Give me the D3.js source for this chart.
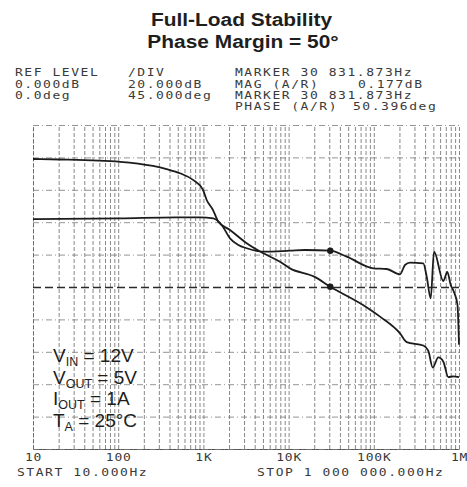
<!DOCTYPE html>
<html>
<head>
<meta charset="utf-8">
<script src="https://cdn.jsdelivr.net/npm/d3@7"></script>
<style>
  html, body { margin: 0; padding: 0; background: #fff; }
  svg { display: block; }
  .mono { font-family: "DejaVu Sans Mono", monospace; font-size: 10px; letter-spacing: 1.2px; fill: #3a3a3a; }
</style>
</head>
<body>
<svg id="chart" width="467" height="487"></svg>
<script>
// Frequency decades along the bottom and their labels
const decades = [10, 100, 1e3, 1e4, 1e5, 1e6];
const decadeLabels = ["10", "100", "1K", "10K", "100K", "1M"];

// Loop gain magnitude (dB) vs frequency (Hz)
const magFreq = [10, 20.7, 105, 256, 371, 531, 755, 989, 1093, 1297, 1496, 2051, 3222, 5049, 7928, 10380, 20000, 30831, 74680, 118300, 203000, 243300, 381000, 436500, 491400, 571700, 654600, 748600, 857000, 1000000];
const magDb   = [79.0, 78.7, 77.3, 74.7, 72.7, 70.2, 66.1, 59.9, 53.7, 47.5, 40.3, 35.2, 27.0, 20.8, 15.6, 11.5, 6.4, 0.177, -11.1, -18.3, -28.6, -34.0, -36.1, -39.5, -49.7, -43.5, -46.1, -55.6, -55.2, -55.6];

// Loop phase (deg) vs frequency (Hz)
const phaseFreq = [10, 105, 486, 912, 1306, 1640, 2051, 2570, 3222, 5049, 10380, 15570, 30831, 48090, 98660, 141600, 203000, 232300, 266000, 381000, 417900, 465600, 509000, 654600, 729000, 799700, 873000, 960000, 1000000];
const phaseDeg  = [94.4, 95.4, 96.8, 96.8, 95.4, 86.1, 67.6, 58.3, 53.8, 49.0, 50.4, 51.4, 50.396, 42.1, 26.0, 25.0, 17.6, 30.6, 33.8, 32.9, 14.3, -15.7, 49.0, 8.3, 20.8, 2.8, -6.9, -25, -80];

// Crossover marker
const markerFreq = 30831.873;
const markerMag = 0.177;
const markerPhase = 50.396;

// Analyzer readout lines
const headerLeft = [["REF LEVEL", "/DIV"], ["0.000dB", "20.000dB"], ["0.0deg", "45.000deg"]];
const headerRight = [["MARKER 30 831.873Hz", ""], ["MAG (A/R)", "0.177dB"], ["MARKER 30 831.873Hz", ""], ["PHASE (A/R)", "50.396deg"]];

const svg = d3.select("#chart");
const plotLeft = 33, plotRight = 459, plotTop = 125, plotBottom = 449;

const x = d3.scaleLog().domain([10, 1e6]).range([plotLeft, plotRight]);
const yMag = d3.scaleLinear().domain([-100, 100]).range([plotBottom, plotTop]);
const yPh = d3.scaleLinear().domain([-225, 225]).range([plotBottom, plotTop]);

// Title (slightly widened bold sans)
const title = svg.append("g")
  .attr("font-family", "'Liberation Sans', Arial, sans-serif")
  .attr("font-weight", "bold").attr("font-size", 19).attr("fill", "#1e1e1e")
  .attr("text-anchor", "middle");
title.append("text").attr("transform", "translate(241.5,26) scale(1.1,1)").text("Full-Load Stability");
title.append("text").attr("transform", "translate(243,47.5) scale(1.1,1)").text("Phase Margin = 50°");

// Monospace readout text, drawn wide like the plotter font
function mono(str, px, py) {
  svg.append("text").attr("class", "mono")
    .attr("transform", `translate(${px},${py}) scale(1.3,1)`)
    .text(str);
}
const rowY = [76, 87.5, 98.5, 110];
headerLeft.forEach((r, i) => { mono(r[0], 15, rowY[i]); mono(r[1], 128, rowY[i]); });
headerRight.forEach((r, i) => {
  mono(r[0], 235, rowY[i]);
  if (r[1]) mono(r[1], r[1].startsWith("0.") ? 358 : 353, rowY[i]);
});

// Vertical grid: every 1..9 multiple within each decade
const minorTicks = [];
decades.slice(0, -1).forEach(d => { for (let k = 1; k < 10; k++) minorTicks.push(d * k); });
minorTicks.push(1e6);

svg.append("g")
  .attr("transform", `translate(0,${plotBottom})`)
  .call(d3.axisBottom(x).tickValues(minorTicks).tickFormat("").tickSize(-(plotBottom - plotTop)).tickSizeOuter(0))
  .call(g => g.select(".domain").attr("stroke", "#555").attr("stroke-width", 1))
  .call(g => g.selectAll(".tick line")
    .attr("stroke", "#444").attr("stroke-width", 0.8)
    .attr("stroke-dasharray", "4,2").attr("opacity", 0.8));

// Horizontal grid: 10 divisions
const divs = d3.range(-100, 101, 20);
svg.append("g")
  .attr("transform", `translate(${plotLeft},0)`)
  .call(d3.axisLeft(yMag).tickValues(divs).tickFormat("").tickSize(-(plotRight - plotLeft)).tickSizeOuter(0))
  .call(g => g.select(".domain").attr("stroke", "#666").attr("stroke-width", 0.9).attr("stroke-dasharray", "4,2"))
  .call(g => g.selectAll(".tick line")
    .attr("stroke", d => d === 0 ? "#2a2a2a" : "#7a7a7a")
    .attr("stroke-width", d => d === 0 ? 1.4 : 0.8)
    .attr("stroke-dasharray", d => d === 0 ? "8,4" : "6,3,1,3"));

// Decade labels
svg.append("g")
  .attr("transform", `translate(0,${plotBottom})`)
  .call(d3.axisBottom(x).tickValues(decades).tickFormat((d, i) => decadeLabels[i]).tickSize(0).tickPadding(0))
  .call(g => g.select(".domain").remove())
  .call(g => g.selectAll(".tick text")
    .attr("class", "mono").attr("y", 12).attr("dy", 0)
    .attr("transform", "scale(1.3,1)")
    .style("letter-spacing", "0.6px"));

mono("START 10.000Hz", 17, 476);
mono("STOP 1 000 000.000Hz", 257, 476);

// Traces
const magLine = d3.line().x(d => x(d[0])).y(d => yMag(d[1])).curve(d3.curveMonotoneX);
const phLine = d3.line().x(d => x(d[0])).y(d => yPh(d[1])).curve(d3.curveMonotoneX);

svg.append("path").datum(magFreq.map((f, i) => [f, magDb[i]]))
  .attr("d", magLine).attr("fill", "none").attr("stroke", "#1c1c1c").attr("stroke-width", 1.8)
  .attr("stroke-linejoin", "round");
svg.append("path").datum(phaseFreq.map((f, i) => [f, phaseDeg[i]]))
  .attr("d", phLine).attr("fill", "none").attr("stroke", "#1c1c1c").attr("stroke-width", 1.8)
  .attr("stroke-linejoin", "round");

svg.append("circle").attr("cx", x(markerFreq)).attr("cy", yMag(markerMag)).attr("r", 3.2).attr("fill", "#1c1c1c");
svg.append("circle").attr("cx", x(markerFreq)).attr("cy", yPh(markerPhase)).attr("r", 3.2).attr("fill", "#1c1c1c");

// Operating conditions
const cond = svg.append("g")
  .attr("font-family", "'Liberation Sans', Arial, sans-serif")
  .attr("font-size", 19).attr("fill", "#1e1e1e");
const condLines = [["V", "IN", " = 12V"], ["V", "OUT", " = 5V"], ["I", "OUT", " = 1A"], ["T", "A", " = 25°C"]];
const condY = [362, 383.5, 405, 426.5];
condLines.forEach((c, i) => {
  const t = cond.append("text").attr("x", 53).attr("y", condY[i]);
  t.append("tspan").text(c[0]);
  t.append("tspan").attr("font-size", 12.5).attr("dy", 4).text(c[1]);
  t.append("tspan").attr("dy", -4).text(c[2]);
});
</script>
</body>
</html>
